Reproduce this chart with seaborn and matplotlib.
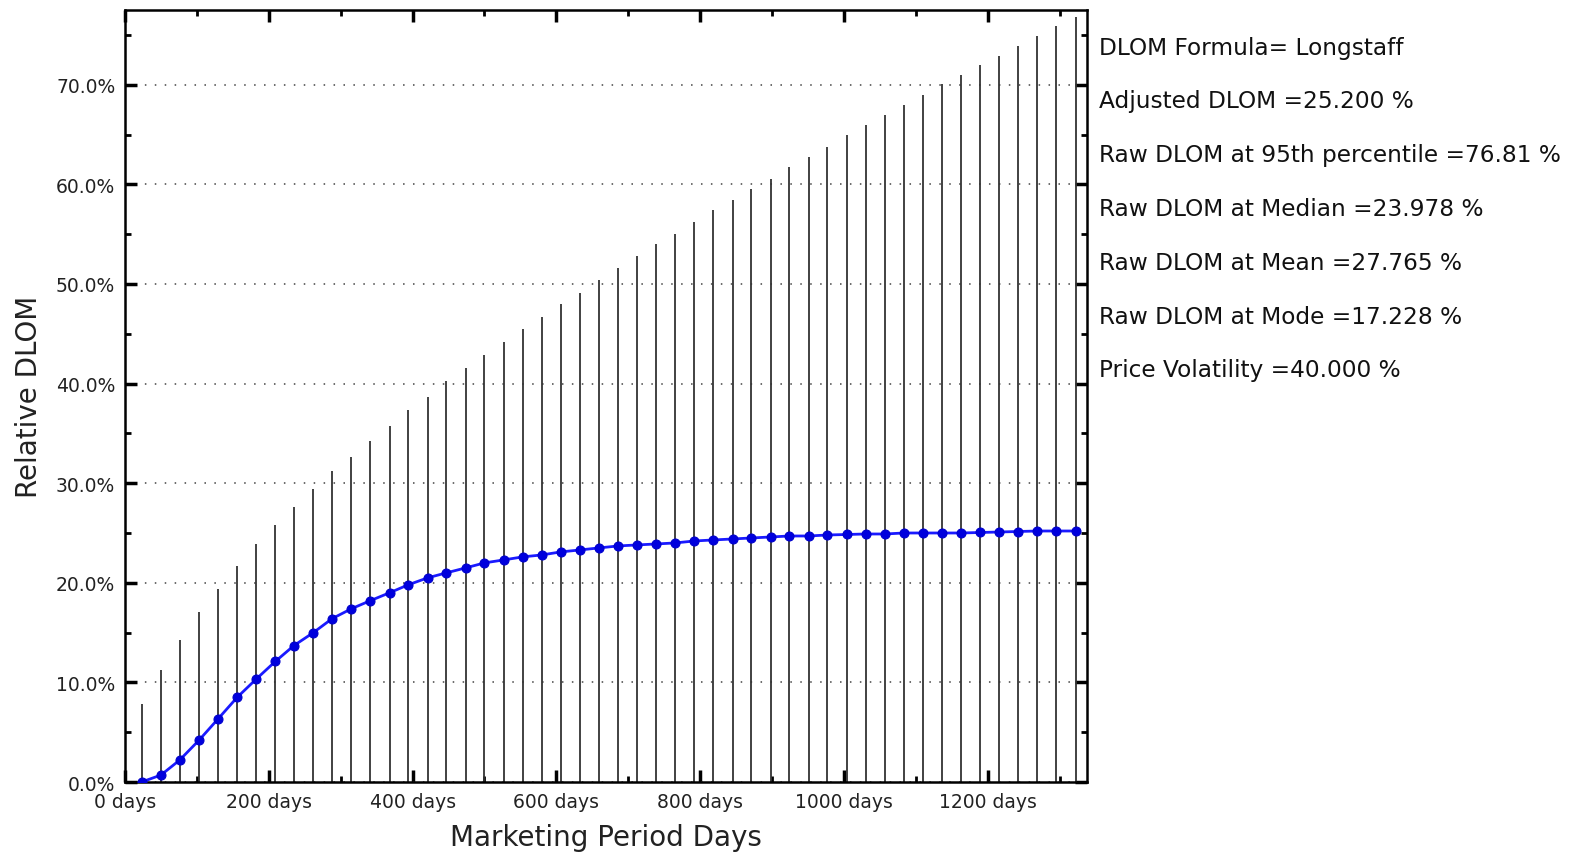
import numpy as np
import pandas as pd
import matplotlib
matplotlib.use("Agg")
import matplotlib.pyplot as plt
from matplotlib.ticker import MultipleLocator, FuncFormatter
import seaborn as sns

# data
days = [23, 50, 76, 103, 129, 156, 182, 209, 235, 262,
        288, 315, 341, 368, 394, 421, 447, 474, 500, 527,
        553, 580, 606, 633, 659, 686, 712, 739, 765, 792,
        818, 845, 871, 898, 924, 951, 977, 1004, 1030, 1057,
        1083, 1110, 1136, 1163, 1189, 1216, 1242, 1269, 1295, 1322]

adjusted_dlom = [0.0, 0.7, 2.2, 4.2, 6.3, 8.5, 10.3, 12.1, 13.7, 15.0,
                 16.4, 17.4, 18.2, 19.0, 19.8, 20.5, 21.0, 21.5, 22.0, 22.3,
                 22.6, 22.8, 23.1, 23.3, 23.5, 23.7, 23.8, 23.9, 24.0, 24.2,
                 24.3, 24.4, 24.5, 24.6, 24.7, 24.7, 24.8, 24.85, 24.9, 24.9,
                 25.0, 25.0, 25.0, 25.0, 25.05, 25.1, 25.15, 25.2, 25.2, 25.2]

raw_dlom_95 = [7.8, 11.2, 14.3, 17.1, 19.4, 21.7, 23.9, 25.8, 27.6, 29.4,
               31.2, 32.6, 34.2, 35.7, 37.3, 38.7, 40.3, 41.6, 42.9, 44.2,
               45.5, 46.7, 48.0, 49.1, 50.4, 51.6, 52.8, 54.0, 55.0, 56.2,
               57.4, 58.4, 59.5, 60.5, 61.7, 62.7, 63.7, 65.0, 66.0, 67.0,
               68.0, 69.0, 70.1, 71.0, 72.0, 72.9, 73.9, 74.9, 75.9, 76.8]

info_lines = ["DLOM Formula= Longstaff",
              "Adjusted DLOM =25.200 %",
              "Raw DLOM at 95th percentile =76.81 %",
              "Raw DLOM at Median =23.978 %",
              "Raw DLOM at Mean =27.765 %",
              "Raw DLOM at Mode =17.228 %",
              "Price Volatility =40.000 %"]

df = pd.DataFrame({"days": days, "dlom": adjusted_dlom, "upper": raw_dlom_95})

sns.set_style("white")
plt.rcParams['font.family'] = ['DejaVu Sans']

fig = plt.figure(figsize=(15.72, 8.54), dpi=100)
ax = fig.add_axes([0.0795, 0.0831, 0.612, 0.904])

# vertical range lines
ax.vlines(df["days"], 0, df["upper"], color="#333333", linewidth=1.3, zorder=2)

# adjusted DLOM curve
sns.lineplot(data=df, x="days", y="dlom", ax=ax, color="#1a1aff", linewidth=2,
             marker="o", markersize=6.5, markeredgecolor="#0000cc",
             markerfacecolor="#0000dd", zorder=3)

ax.set_xlim(0, 1338)
ax.set_ylim(0, 77.5)

ax.xaxis.set_major_locator(MultipleLocator(200))
ax.xaxis.set_minor_locator(MultipleLocator(100))
ax.yaxis.set_major_locator(MultipleLocator(10))
ax.yaxis.set_minor_locator(MultipleLocator(5))
ax.xaxis.set_major_formatter(FuncFormatter(lambda v, p: "%d days" % v))
ax.yaxis.set_major_formatter(FuncFormatter(lambda v, p: "%.1f%%" % v))

ax.tick_params(which="both", direction="in", top=True, right=True,
               bottom=True, left=True, colors="black", labelsize=13.5,
               labelcolor="#222222")
ax.tick_params(which="major", length=8.5, width=2.5, pad=7)
ax.tick_params(which="minor", length=4.5, width=2)

ax.yaxis.grid(True, which="major", linestyle=(0, (1, 5.5)), color="#444444",
              linewidth=1.1)
ax.xaxis.grid(False)
for s in ax.spines.values():
    s.set_color("black")
    s.set_linewidth(1.8)

ax.set_xlabel("Marketing Period Days", fontsize=20, labelpad=9, color="#222222")
ax.set_ylabel("Relative DLOM", fontsize=20, labelpad=9, color="#222222")

# info text to the right of the plot
for i, line in enumerate(info_lines):
    fig.text(0.6975 + 3 / 1572, 1 - (48 + i * 53.8) / 854, line, fontsize=16.75,
             va="center", ha="left", color="#111111")

fig.savefig("out.png", dpi=100)
